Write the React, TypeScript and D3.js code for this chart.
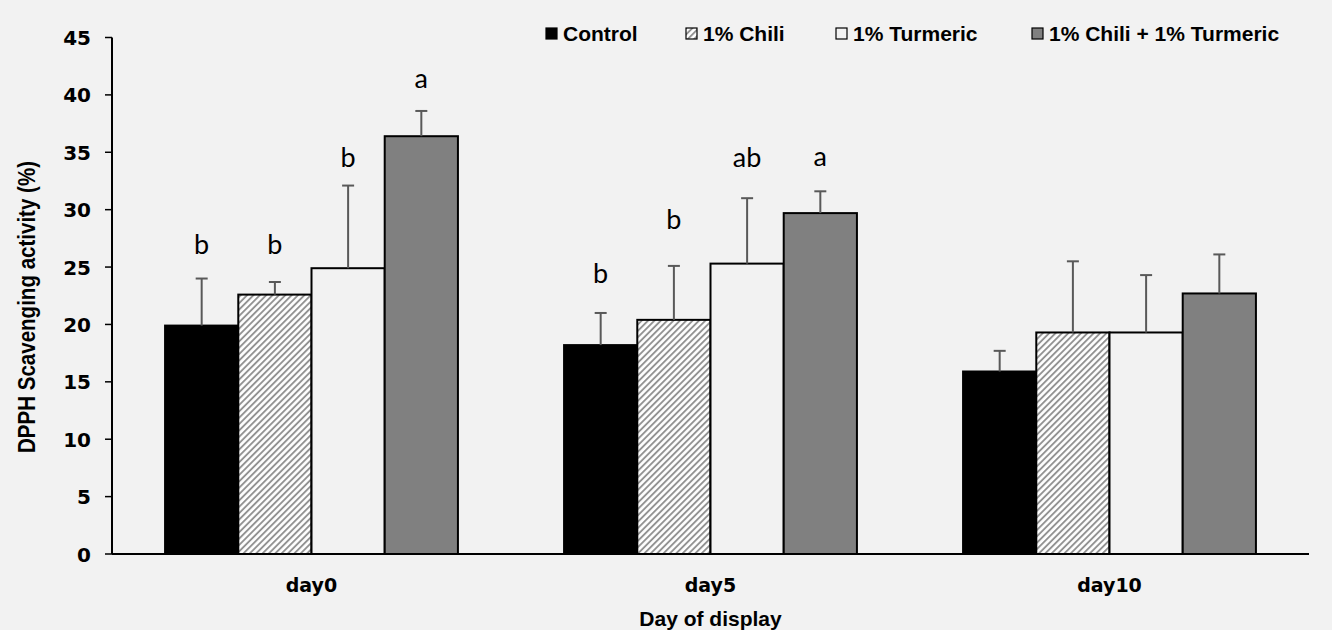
import { useEffect, useRef } from 'react';
import * as d3 from 'd3';

const days = ['day0', 'day5', 'day10'];
const seriesNames = ['Control', '1% Chili', '1% Turmeric', '1% Chili + 1% Turmeric'];
const controlValues = [19.9, 18.2, 15.9];
const chiliValues = [22.6, 20.4, 19.3];
const turmericValues = [24.9, 25.3, 19.3];
const comboValues = [36.4, 29.7, 22.7];
const controlErr = [4.1, 2.8, 1.8];
const chiliErr = [1.1, 4.7, 6.2];
const turmericErr = [7.2, 5.7, 5.0];
const comboErr = [2.2, 1.9, 3.4];
// significance letters and the value their baseline sits at
const controlLetters = ['b', 'b', ''];
const chiliLetters = ['b', 'b', ''];
const turmericLetters = ['b', 'ab', ''];
const comboLetters = ['a', 'a', ''];
const controlLetterAt = [26.1, 23.6, 0];
const chiliLetterAt = [26.1, 28.3, 0];
const turmericLetterAt = [33.7, 33.7, 0];
const comboLetterAt = [40.6, 33.8, 0];
const yTicks = [0, 5, 10, 15, 20, 25, 30, 35, 40, 45];

export default function App() {
  const svgRef = useRef<SVGSVGElement>(null);

  useEffect(() => {
    if (!svgRef.current) return;
    const width = 1332;
    const height = 630;
    const margin = { top: 37.5, right: 23, bottom: 76, left: 112 };

    const svg = d3.select(svgRef.current);
    svg.selectAll('*').remove();
    svg.attr('width', width).attr('height', height).attr('viewBox', `0 0 ${width} ${height}`);

    svg.append('rect').attr('width', width).attr('height', height).attr('fill', '#f2f2f2');

    const defs = svg.append('defs');
    const pat = defs.append('pattern')
      .attr('id', 'hatch')
      .attr('patternUnits', 'userSpaceOnUse')
      .attr('width', 4.5)
      .attr('height', 4.5)
      .attr('patternTransform', 'rotate(45)');
    pat.append('rect').attr('width', 4.5).attr('height', 4.5).attr('fill', '#ffffff');
    pat.append('line').attr('x1', 1).attr('x2', 1).attr('y1', 0).attr('y2', 4.5)
      .attr('stroke', '#8c8c8c').attr('stroke-width', 1.8);

    const fills = ['#000000', 'url(#hatch)', '#f2f2f2', '#808080'];
    const values = [controlValues, chiliValues, turmericValues, comboValues];
    const errs = [controlErr, chiliErr, turmericErr, comboErr];
    const letters = [controlLetters, chiliLetters, turmericLetters, comboLetters];
    const letterAt = [controlLetterAt, chiliLetterAt, turmericLetterAt, comboLetterAt];

    const x0 = d3.scaleBand().domain(days).range([margin.left, width - margin.right])
      .paddingInner(0.266).paddingOuter(0.133);
    const x1 = d3.scaleBand().domain(seriesNames).range([0, x0.bandwidth()]);
    const y = d3.scaleLinear().domain([0, 45]).range([height - margin.bottom, margin.top]);

    const tickFont = '"DejaVu Sans", Verdana, sans-serif';
    const boldFont = '"Liberation Sans", Arial, sans-serif';

    // bars
    seriesNames.forEach((name, si) => {
      const g = svg.append('g');
      days.forEach((day, di) => {
        const v = values[si][di];
        const bx = (x0(day) || 0) + (x1(name) || 0);
        const bw = x1.bandwidth();
        g.append('rect')
          .attr('x', bx)
          .attr('y', y(v))
          .attr('width', bw)
          .attr('height', y(0) - y(v))
          .attr('fill', fills[si])
          .attr('stroke', '#000')
          .attr('stroke-width', 2);
        const cx = bx + bw / 2;
        const top = y(v + errs[si][di]);
        g.append('line').attr('x1', cx).attr('x2', cx).attr('y1', y(v)).attr('y2', top)
          .attr('stroke', '#595959').attr('stroke-width', 2);
        g.append('line').attr('x1', cx - 6).attr('x2', cx + 6).attr('y1', top).attr('y2', top)
          .attr('stroke', '#595959').attr('stroke-width', 2);
        if (letters[si][di]) {
          g.append('text')
            .attr('x', cx)
            .attr('y', y(letterAt[si][di]))
            .attr('text-anchor', 'middle')
            .style('font', '27px Lato, "Open Sans", sans-serif')
            .attr('fill', '#000')
            .text(letters[si][di]);
        }
      });
    });

    // y axis
    const yAxis = svg.append('g');
    yAxis.append('line').attr('x1', margin.left).attr('x2', margin.left).attr('y1', y(0)).attr('y2', y(45))
      .attr('stroke', '#000').attr('stroke-width', 2);
    yTicks.forEach(t => {
      yAxis.append('line').attr('x1', margin.left - 7).attr('x2', margin.left).attr('y1', y(t)).attr('y2', y(t))
        .attr('stroke', '#000').attr('stroke-width', 1.5);
      yAxis.append('text')
        .attr('x', margin.left - 21)
        .attr('y', y(t) + 7.5)
        .attr('text-anchor', 'end')
        .style('font', `bold 20px ${tickFont}`)
        .text(t);
    });

    // x axis
    svg.append('line').attr('x1', margin.left).attr('x2', width - margin.right).attr('y1', y(0)).attr('y2', y(0))
      .attr('stroke', '#000').attr('stroke-width', 2);
    days.forEach(day => {
      svg.append('text')
        .attr('x', (x0(day) || 0) + x0.bandwidth() / 2)
        .attr('y', 592)
        .attr('text-anchor', 'middle')
        .style('font', `bold 19px ${tickFont}`)
        .text(day);
    });

    svg.append('text')
      .attr('x', (x0('day5') || 0) + x0.bandwidth() / 2)
      .attr('y', 626)
      .attr('text-anchor', 'middle')
      .style('font', `bold 21px ${boldFont}`)
      .text('Day of display');

    svg.append('text')
      .attr('transform', `translate(35,${307}) rotate(-90)`)
      .attr('text-anchor', 'middle')
      .attr('textLength', 292)
      .attr('lengthAdjust', 'spacingAndGlyphs')
      .style('font', `bold 23px ${boldFont}`)
      .text('DPPH Scavenging activity (%)');

    // legend
    const legendX = [546, 686, 836, 1032];
    seriesNames.forEach((name, i) => {
      svg.append('rect')
        .attr('x', legendX[i])
        .attr('y', 28)
        .attr('width', 11)
        .attr('height', 11)
        .attr('fill', fills[i])
        .attr('stroke', '#000')
        .attr('stroke-width', 1.2);
      svg.append('text')
        .attr('x', legendX[i] + 17)
        .attr('y', 41)
        .style('font', `bold 21px ${boldFont}`)
        .text(name);
    });
  }, []);

  return (
    <svg ref={svgRef} style={{ position: 'absolute', left: 0, top: 0, display: 'block' }} />
  );
}
